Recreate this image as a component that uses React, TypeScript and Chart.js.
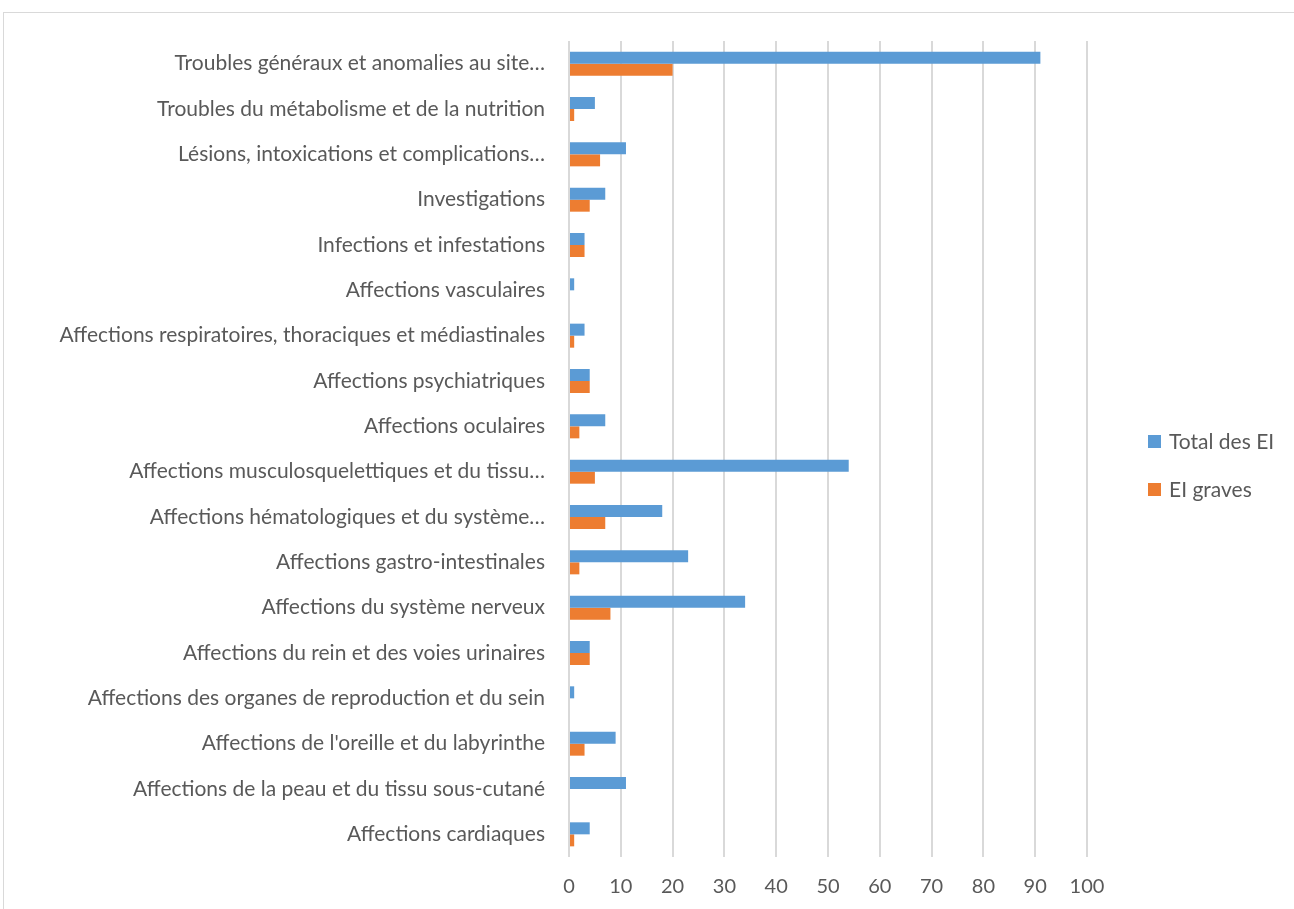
import React, { useEffect, useRef } from "react";
import { Chart, registerables } from "chart.js";

Chart.register(...registerables);

const categories: string[] = [
  "Troubles généraux et anomalies au site…",
  "Troubles du métabolisme et de la nutrition",
  "Lésions, intoxications et complications…",
  "Investigations",
  "Infections et infestations",
  "Affections vasculaires",
  "Affections respiratoires, thoraciques et médiastinales",
  "Affections psychiatriques",
  "Affections oculaires",
  "Affections musculosquelettiques et du tissu…",
  "Affections hématologiques et du système…",
  "Affections gastro-intestinales",
  "Affections du système nerveux",
  "Affections du rein et des voies urinaires",
  "Affections des organes de reproduction et du sein",
  "Affections de l'oreille et du labyrinthe",
  "Affections de la peau et du tissu sous-cutané",
  "Affections cardiaques",
];

const totalEI: number[] = [91, 5, 11, 7, 3, 1, 3, 4, 7, 54, 18, 23, 34, 4, 1, 9, 11, 4];
const eiGraves: number[] = [20, 1, 6, 4, 3, 0, 1, 4, 2, 5, 7, 2, 8, 4, 0, 3, 0, 1];

const seriesNames: string[] = ["Total des EI", "EI graves"];
const seriesColors: string[] = ["#5B9BD5", "#ED7D31"];

const FONT = "Lato, 'Open Sans', sans-serif";

export default function App() {
  const ref = useRef<HTMLCanvasElement | null>(null);

  useEffect(() => {
    if (!ref.current) return;
    const chart = new Chart(ref.current, {
      type: "bar",
      data: {
        labels: categories,
        datasets: [
          { label: seriesNames[0], data: totalEI, backgroundColor: seriesColors[0] },
          { label: seriesNames[1], data: eiGraves, backgroundColor: seriesColors[1] },
        ],
      },
      options: {
        indexAxis: "y",
        responsive: false,
        animation: false,
        categoryPercentage: 0.53,
        barPercentage: 1,
        layout: { padding: { top: 41, right: 207, left: 0, bottom: 0 } },
        plugins: {
          legend: { display: false },
          tooltip: { enabled: false },
        },
        scales: {
          x: {
            min: 0,
            max: 100,
            ticks: {
              stepSize: 10,
              padding: 18,
              color: "#595959",
              font: { family: FONT, size: 20 },
            },
            grid: { color: "#d9d9d9", lineWidth: 2, drawTicks: false },
            border: { display: false },
            afterFit: (s: any) => {
              s.height = 52;
            },
          },
          y: {
            ticks: {
              padding: 24,
              color: "#595959",
              font: { family: FONT, size: 21 },
            },
            grid: { display: false, drawTicks: false },
            border: { display: false },
            afterFit: (s: any) => {
              s.width = 569;
            },
          },
        },
      },
    });
    return () => chart.destroy();
  }, []);

  const legendItem = (i: number, top: number) => (
    <div
      key={i}
      style={{
        position: "absolute",
        left: 1148,
        top,
        display: "flex",
        alignItems: "center",
        fontFamily: FONT,
        fontSize: 21,
        lineHeight: "24px",
        color: "#595959",
        whiteSpace: "nowrap",
      }}
    >
      <span
        style={{
          display: "inline-block",
          width: 13,
          height: 13,
          background: seriesColors[i],
          marginRight: 8,
        }}
      />
      <span>{seriesNames[i]}</span>
    </div>
  );

  return (
    <div style={{ position: "absolute", left: 0, top: 0, width: 1294, height: 909, overflow: "hidden", background: "#fff" }}>
      <div
        style={{
          position: "absolute",
          left: 3,
          top: 12,
          width: 1291,
          height: 897,
          borderTop: "1px solid #d9d9d9",
          borderLeft: "1px solid #d9d9d9",
          boxSizing: "border-box",
        }}
      />
      <canvas
        ref={ref}
        width={1294}
        height={909}
        style={{ position: "absolute", left: 0, top: 0, width: 1294, height: 909 }}
      />
      {legendItem(0, 429)}
      {legendItem(1, 477)}
    </div>
  );
}
